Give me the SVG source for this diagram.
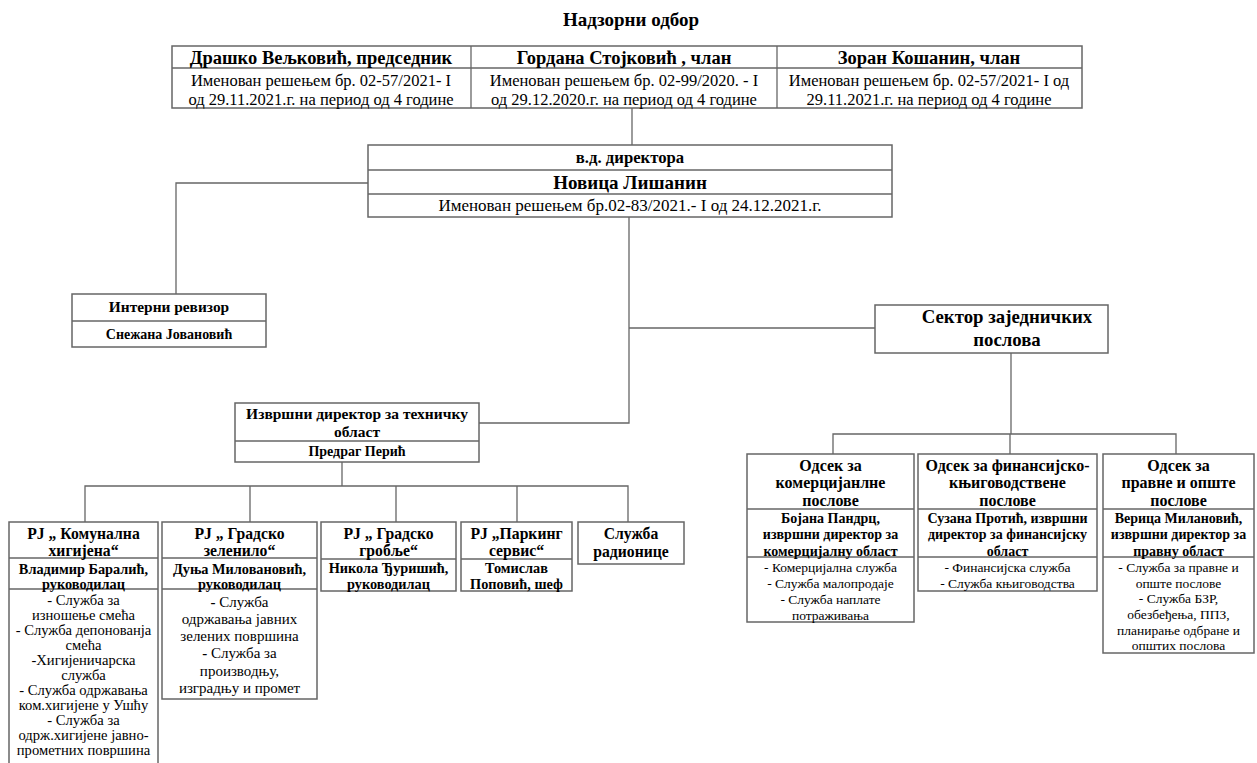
<svg xmlns="http://www.w3.org/2000/svg" width="1257" height="763" viewBox="0 0 1257 763">
<style>
text{font-family:"Liberation Serif","Times New Roman",serif;fill:#000;text-anchor:middle}
.b{font-weight:bold}
.box{fill:#fff;stroke:#666;stroke-width:1.5}
.div{stroke:#666;stroke-width:1.3}
.con{fill:none;stroke:#666;stroke-width:1.3}
.bh{font-size:18.5px;font-weight:bold}
.bb{font-size:16.5px}
.ph{font-size:15.7px;font-weight:bold}
.pn{font-size:14.3px;font-weight:bold}
.pl{font-size:14.6px}
.pl2{font-size:15px}
.oh{font-size:16px;font-weight:bold}
.on{font-size:14px;font-weight:bold}
.ol{font-size:13.5px}
</style>
<rect width="1257" height="763" fill="#fff"/>
<g id="connectors">
<path class="con" d="M632 108V145"/>
<path class="con" d="M368 183H176V294"/>
<path class="con" d="M629 217V423H479"/>
<path class="con" d="M629 328H875"/>
<path class="con" d="M342 462V486"/>
<path class="con" d="M85 522V486H628V522M250 486V522M396 486V522M517 486V522"/>
<path class="con" d="M1011 353V434"/>
<path class="con" d="M833 454V434H1176V454M1010 434V454"/>
</g>
<g id="title"><text class="b" style="font-size:19px" x="631" y="26">Надзорни одбор</text></g>
<g id="board">
<rect class="box" x="172" y="46" width="910" height="62"/>
<line class="div" x1="172" y1="68" x2="1082" y2="68"/>
<line class="div" x1="471" y1="46" x2="471" y2="108"/>
<line class="div" x1="777" y1="46" x2="777" y2="108"/>
<text class="bh" x="321" y="64">Драшко Вељковић, председник</text>
<text class="bb" x="321" y="86">Именован решењем бр. 02-57/2021- I</text>
<text class="bb" x="321" y="105">од 29.11.2021.г. на период од 4 године</text>
<text class="bh" x="624" y="64">Гордана Стојковић , члан</text>
<text class="bb" x="624" y="86">Именован решењем бр. 02-99/2020. - I</text>
<text class="bb" x="624" y="105">од 29.12.2020.г. на период од 4 године</text>
<text class="bh" x="929" y="64">Зоран Кошанин, члан</text>
<text class="bb" x="929" y="86">Именован решењем бр. 02-57/2021- I од</text>
<text class="bb" x="929" y="105">29.11.2021.г. на период од 4 године</text>
</g>
<g id="director">
<rect class="box" x="368" y="145" width="524" height="72"/>
<line class="div" x1="368" y1="170" x2="892" y2="170"/>
<line class="div" x1="368" y1="194" x2="892" y2="194"/>
<text class="b" style="font-size:16.7px" x="630" y="163">в.д. директора</text>
<text class="b" style="font-size:19px" x="630" y="189">Новица Лишанин</text>
<text style="font-size:17px" x="630" y="211">Именован решењем бр.02-83/2021.- I од 24.12.2021.г.</text>
</g>
<g id="auditor">
<rect class="box" x="72" y="294" width="194" height="53"/>
<line class="div" x1="72" y1="321" x2="266" y2="321"/>
<text class="b" style="font-size:15.4px" x="169" y="312">Интерни ревизор</text>
<text class="b" style="font-size:14px" x="169" y="339">Снежана Јовановић</text>
</g>
<g id="sector">
<rect class="box" x="875" y="305" width="233" height="48"/>
<text class="b" style="font-size:18.8px" x="1007" y="323">Сектор заједничких</text>
<text class="b" style="font-size:18.8px" x="1007" y="346">послова</text>
</g>
<g id="exec-tech">
<rect class="box" x="235" y="403" width="244" height="59"/>
<line class="div" x1="235" y1="441" x2="479" y2="441"/>
<text class="b" style="font-size:15.5px" x="357" y="419">Извршни директор за техничку</text>
<text class="b" style="font-size:15.5px" x="357" y="437">област</text>
<text class="b" style="font-size:14px" x="357" y="456">Предраг Перић</text>
</g>
<g id="pj-komunalna">
<rect class="box" x="9" y="522" width="149" height="250"/>
<line class="div" x1="9" y1="558" x2="158" y2="558"/>
<line class="div" x1="9" y1="589" x2="158" y2="589"/>
<text class="ph" x="83.5" y="539">РЈ „ Комунална</text>
<text class="ph" x="83.5" y="556">хигијена“</text>
<text class="pn" x="83.5" y="574">Владимир Баралић,</text>
<text class="pn" x="83.5" y="589">руководилац</text>
<text class="pl" x="83.5" y="605">- Служба за</text>
<text class="pl" x="83.5" y="620">изношење смећа</text>
<text class="pl" x="83.5" y="635">- Служба депонованја</text>
<text class="pl" x="83.5" y="650">смећа</text>
<text class="pl" x="83.5" y="665">-Хигијеничарска</text>
<text class="pl" x="83.5" y="680">служба</text>
<text class="pl" x="83.5" y="695">- Служба одржавања</text>
<text class="pl" x="83.5" y="710">ком.хигијене у Ушћу</text>
<text class="pl" x="83.5" y="725">- Служба за</text>
<text class="pl" x="83.5" y="740">одрж.хигијене јавно-</text>
<text class="pl" x="83.5" y="755">прометних површина</text>
</g>
<g id="pj-zelenilo">
<rect class="box" x="162" y="522" width="155" height="177"/>
<line class="div" x1="162" y1="558" x2="317" y2="558"/>
<line class="div" x1="162" y1="589" x2="317" y2="589"/>
<text class="ph" x="239.5" y="539">РЈ „ Градско</text>
<text class="ph" x="239.5" y="556">зеленило“</text>
<text class="pn" x="239.5" y="574">Дуња Миловановић,</text>
<text class="pn" x="239.5" y="589">руководилац</text>
<text class="pl2" x="239.5" y="607"><tspan font-weight="bold">-</tspan> Служба</text>
<text class="pl2" x="239.5" y="624">одржавања јавних</text>
<text class="pl2" x="239.5" y="641">зелених површина</text>
<text class="pl2" x="239.5" y="658"><tspan font-weight="bold">-</tspan> Служба за</text>
<text class="pl2" x="239.5" y="676">производњу,</text>
<text class="pl2" x="239.5" y="693">изградњу и промет</text>
</g>
<g id="pj-groblje">
<rect class="box" x="321" y="522" width="135" height="69"/>
<line class="div" x1="321" y1="559" x2="456" y2="559"/>
<text class="ph" x="388.5" y="539">РЈ „ Градско</text>
<text class="ph" x="388.5" y="556">гробље“</text>
<text class="pn" x="388.5" y="573">Никола Ђуришић,</text>
<text class="pn" x="388.5" y="589">руководилац</text>
</g>
<g id="pj-parking">
<rect class="box" x="461" y="522" width="111" height="69"/>
<line class="div" x1="461" y1="559" x2="572" y2="559"/>
<text class="ph" x="516.5" y="539">РЈ „Паркинг</text>
<text class="ph" x="516.5" y="556">сервис“</text>
<text class="pn" x="516.5" y="573">Томислав</text>
<text class="pn" x="516.5" y="589">Поповић, шеф</text>
</g>
<g id="radionica">
<rect class="box" x="578" y="522" width="106" height="42"/>
<text class="ph" x="631" y="539">Служба</text>
<text class="ph" x="631" y="557">радионице</text>
</g>
<g id="odsek-komercijalni">
<rect class="box" x="747" y="454" width="167" height="168"/>
<line class="div" x1="747" y1="509" x2="914" y2="509"/>
<line class="div" x1="747" y1="557" x2="914" y2="557"/>
<text class="oh" x="830.5" y="471">Одсек за</text>
<text class="oh" x="830.5" y="488">комерцијанлне</text>
<text class="oh" x="830.5" y="506">послове</text>
<text class="on" x="830.5" y="523">Бојана Пандрц,</text>
<text class="on" x="830.5" y="539">извршни директор за</text>
<text class="on" x="830.5" y="556">комерцијалну област</text>
<text class="ol" x="830.5" y="572">- Комерцијална служба</text>
<text class="ol" x="830.5" y="588">- Служба малопродаје</text>
<text class="ol" x="830.5" y="604">- Служба наплате</text>
<text class="ol" x="830.5" y="620">потраживања</text>
</g>
<g id="odsek-finansijski">
<rect class="box" x="918" y="454" width="179" height="137"/>
<line class="div" x1="918" y1="509" x2="1097" y2="509"/>
<line class="div" x1="918" y1="557" x2="1097" y2="557"/>
<text class="oh" x="1007.5" y="471">Одсек за финансијско-</text>
<text class="oh" x="1007.5" y="488">књиговодствене</text>
<text class="oh" x="1007.5" y="506">послове</text>
<text class="on" x="1007.5" y="523">Сузана Протић, извршни</text>
<text class="on" x="1007.5" y="539">директор за финансијску</text>
<text class="on" x="1007.5" y="556">област</text>
<text class="ol" x="1007.5" y="572">- Финансијска служба</text>
<text class="ol" x="1007.5" y="588">- Служба књиговодства</text>
</g>
<g id="odsek-pravni">
<rect class="box" x="1103" y="454" width="151" height="199"/>
<line class="div" x1="1103" y1="509" x2="1254" y2="509"/>
<line class="div" x1="1103" y1="557" x2="1254" y2="557"/>
<text class="oh" x="1178.5" y="471">Одсек за</text>
<text class="oh" x="1178.5" y="488">правне и опште</text>
<text class="oh" x="1178.5" y="506">послове</text>
<text class="on" x="1178.5" y="523">Верица Милановић,</text>
<text class="on" x="1178.5" y="539">извршни директор за</text>
<text class="on" x="1178.5" y="556">правну област</text>
<text class="ol" x="1178.5" y="572">- Служба за правне и</text>
<text class="ol" x="1178.5" y="588">опште послове</text>
<text class="ol" x="1178.5" y="603">- Служба БЗР,</text>
<text class="ol" x="1178.5" y="619">обезбеђења, ППЗ,</text>
<text class="ol" x="1178.5" y="635">планирање одбране и</text>
<text class="ol" x="1178.5" y="650">општих послова</text>
</g>
</svg>
